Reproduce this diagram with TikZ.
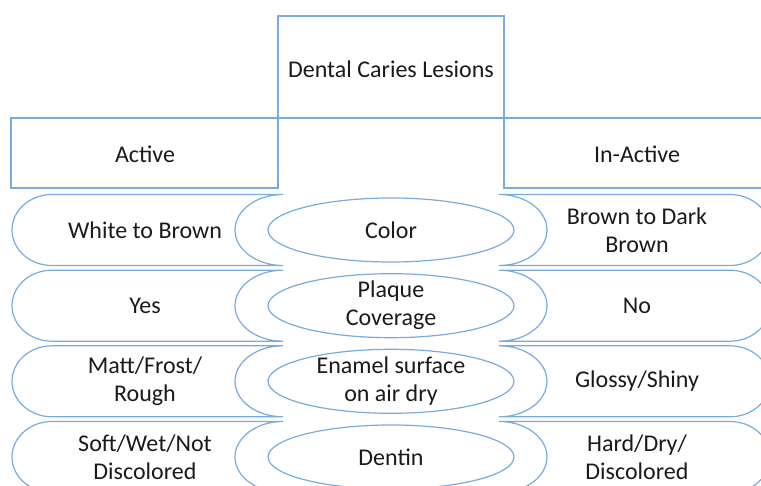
\documentclass[tikz,border=0pt]{standalone}
\usepackage{fontspec}
\setmainfont{Carlito}
\usetikzlibrary{calc}
\definecolor{lineblue}{HTML}{78ABDE}
\definecolor{inkgray}{HTML}{1A1A1A}

\begin{document}
\begin{tikzpicture}[x=.5pt, y=-.5pt, line width=.6pt, draw=lineblue]
    \tikzset{txt/.style={align=center, text=inkgray, font=\fontsize{12}{14}\selectfont}}
    \def\h{35.5} \def\ra{40} \def\rb{48}
    \def\ex{123} \def\ey{32} \def\side{246}
    \useasboundingbox (0,0) rectangle (761,486);
    \clip (0,0) rectangle (761,486);
    \coordinate (row1) at (391, 230);
    \coordinate (row2) at (391, 305.7);
    \coordinate (row3) at (391, 381.3);
    \coordinate (row4) at (391, 457);

    \draw (278,16) rectangle (504,118);
    \draw (11,118) rectangle (278,188);
    \draw (504,118) rectangle (771,188);
    \node[txt] (lesions) at (391,69) {Dental Caries Lesions};
    \node[txt] (active) at (145,154) {Active};
    \node[txt] (inactive) at (637,154) {In-Active};

    \draw ($ (row1) + (-108,-\h) $) -- ($ (row1) + (-339,-\h) $) arc [start angle=270, end angle=90, x radius=\ra, y radius=\h] -- ($ (row1) + (-108,\h) $) arc [start angle=90, end angle=270, x radius=\rb, y radius=\h] -- cycle;
    \draw ($ (row2) + (-108,-\h) $) -- ($ (row2) + (-339,-\h) $) arc [start angle=270, end angle=90, x radius=\ra, y radius=\h] -- ($ (row2) + (-108,\h) $) arc [start angle=90, end angle=270, x radius=\rb, y radius=\h] -- cycle;
    \draw ($ (row3) + (-108,-\h) $) -- ($ (row3) + (-339,-\h) $) arc [start angle=270, end angle=90, x radius=\ra, y radius=\h] -- ($ (row3) + (-108,\h) $) arc [start angle=90, end angle=270, x radius=\rb, y radius=\h] -- cycle;
    \draw ($ (row4) + (-108,-\h) $) -- ($ (row4) + (-339,-\h) $) arc [start angle=270, end angle=90, x radius=\ra, y radius=\h] -- ($ (row4) + (-108,\h) $) arc [start angle=90, end angle=270, x radius=\rb, y radius=\h] -- cycle;

    \draw ($ (row1) + (108,-\h) $) arc [start angle=270, end angle=450, x radius=\rb, y radius=\h] -- ($ (row1) + (339,\h) $) arc [start angle=90, end angle=-90, x radius=\ra, y radius=\h] -- cycle;
    \draw ($ (row2) + (108,-\h) $) arc [start angle=270, end angle=450, x radius=\rb, y radius=\h] -- ($ (row2) + (339,\h) $) arc [start angle=90, end angle=-90, x radius=\ra, y radius=\h] -- cycle;
    \draw ($ (row3) + (108,-\h) $) arc [start angle=270, end angle=450, x radius=\rb, y radius=\h] -- ($ (row3) + (339,\h) $) arc [start angle=90, end angle=-90, x radius=\ra, y radius=\h] -- cycle;
    \draw ($ (row4) + (108,-\h) $) arc [start angle=270, end angle=450, x radius=\rb, y radius=\h] -- ($ (row4) + (339,\h) $) arc [start angle=90, end angle=-90, x radius=\ra, y radius=\h] -- cycle;

    \draw (row1) ellipse [x radius=\ex, y radius=\ey];
    \draw (row2) ellipse [x radius=\ex, y radius=\ey];
    \draw (row3) ellipse [x radius=\ex, y radius=\ey];
    \draw (row4) ellipse [x radius=\ex, y radius=\ey];

    \node[txt] (color) at (row1) {Color};
    \node[txt] (plaque) at (row2) {Plaque\\Coverage};
    \node[txt] (enamel) at (row3) {Enamel surface\\on air dry};
    \node[txt] (dentin) at (row4) {Dentin};
    \node[txt] (colora) at ($ (row1) + (-\side,0) $) {White to Brown};
    \node[txt] (plaquea) at ($ (row2) + (-\side,0) $) {Yes};
    \node[txt] (enamela) at ($ (row3) + (-\side,0) $) {Matt/Frost/\\Rough};
    \node[txt] (dentina) at ($ (row4) + (-\side,0) $) {Soft/Wet/Not\\Discolored};
    \node[txt] (colori) at ($ (row1) + (\side,0) $) {Brown to Dark\\Brown};
    \node[txt] (plaquei) at ($ (row2) + (\side,0) $) {No};
    \node[txt] (enameli) at ($ (row3) + (\side,0) $) {Glossy/Shiny};
    \node[txt] (dentini) at ($ (row4) + (\side,0) $) {Hard/Dry/\\Discolored};
\end{tikzpicture}
\end{document}
